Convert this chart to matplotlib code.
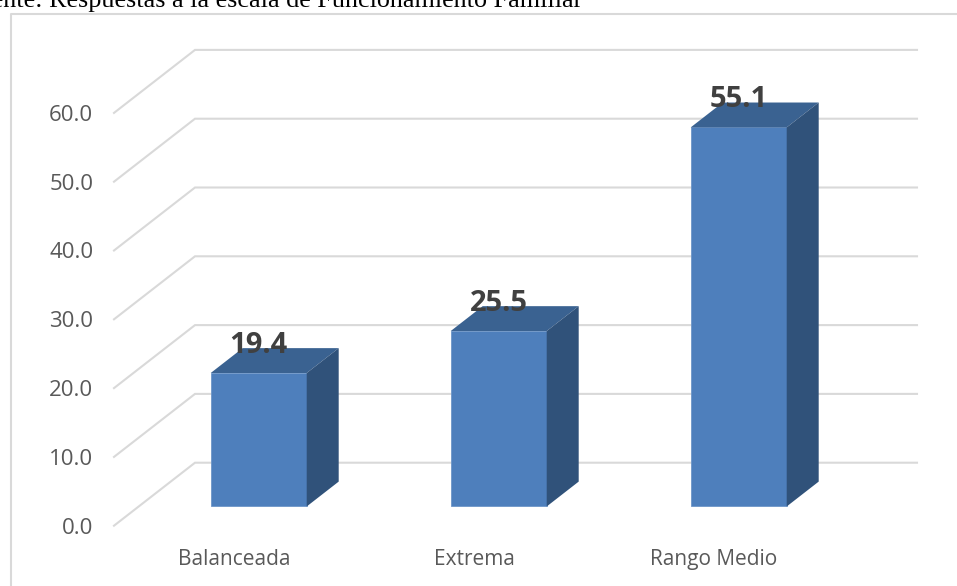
# %%
import matplotlib
matplotlib.use("Agg")
import matplotlib.pyplot as plt
from matplotlib.lines import Line2D

categories = ["Balanceada", "Extrema", "Rango Medio"]
values = [19.4, 25.5, 55.1]
y_ticks = [0, 10, 20, 30, 40, 50, 60]
caption = "Fuente: Respuestas a la escala de Funcionamiento Familiar"

W, H = 957, 586
PX_X = 240.0  # px per category
PX_Y = 6.88   # px per unit

# %%
def depth(d):
    # shift in data units for a given depth into the 3d box
    return 81 * d / PX_X, 63 * d / PX_Y

plt.rcParams["font.family"] = ["Open Sans", "DejaVu Sans"]
fig = plt.figure(figsize=(W / 100, H / 100), dpi=100)
ax = fig.add_axes([114 / W, (H - 525.7) / H, 722 / W, 60 * PX_Y / H])
ax.set_xlim(-0.5, -0.5 + 722 / PX_X)
ax.set_ylim(0, 60)
for s in ax.spines.values():
    s.set_visible(False)

# back wall and floor lines
dx, dy = depth(1)
x0, x1 = ax.get_xlim()
for v in y_ticks:
    ax.plot([x0, x0 + dx, x1 + dx], [v, v + dy, v + dy], color="#D9D9D9", lw=1.5,
            clip_on=False, zorder=1, solid_joinstyle="miter")

# bars
bar_w = 0.4
bx, by = depth(0.305)
sx, sy = depth(0.395)
for i, v in enumerate(values):
    left = i + bx - bar_w / 2
    right = left + bar_w
    top = by + v
    ax.bar(i + bx, v, width=bar_w, bottom=by, color="#4E7FBC", edgecolor="#6D96C8", lw=0.6, zorder=3)
    ax.fill([left, right, right + sx, left + sx], [top, top, top + sy, top + sy],
            color="#3A6291", lw=0, clip_on=False, zorder=3)
    ax.fill([right, right + sx, right + sx, right], [by, by + sy, top + sy, top],
            color="#30527A", lw=0, clip_on=False, zorder=3)
    ax.annotate("{:.1f}".format(v), (i + bx, top), xytext=(0, 9.5), textcoords="offset points",
                ha="center", va="bottom", fontsize=21, fontweight="bold", color="#404040", zorder=4)

ax.set_xticks(range(len(categories)))
ax.set_xticklabels(categories)
ax.set_yticks(y_ticks)
ax.set_yticklabels(["{:.1f}".format(v) for v in y_ticks])
ax.tick_params(axis="x", length=0, pad=16.5, labelsize=15, labelcolor="#595959")
ax.tick_params(axis="y", length=0, pad=15, labelsize=16, labelcolor="#595959")

# chart frame
fig.add_artist(Line2D([11 / W, 11 / W, 1], [0, 1 - 14 / H, 1 - 14 / H], color="#D9D9D9", lw=1.5))

# the caption runs off the top left of the source picture
fig.text(582 / W, 1 - 7 / H, caption, family="Liberation Serif", fontsize=18.8, color="black",
         ha="right", va="baseline")

fig.savefig("out.png", dpi=100)
